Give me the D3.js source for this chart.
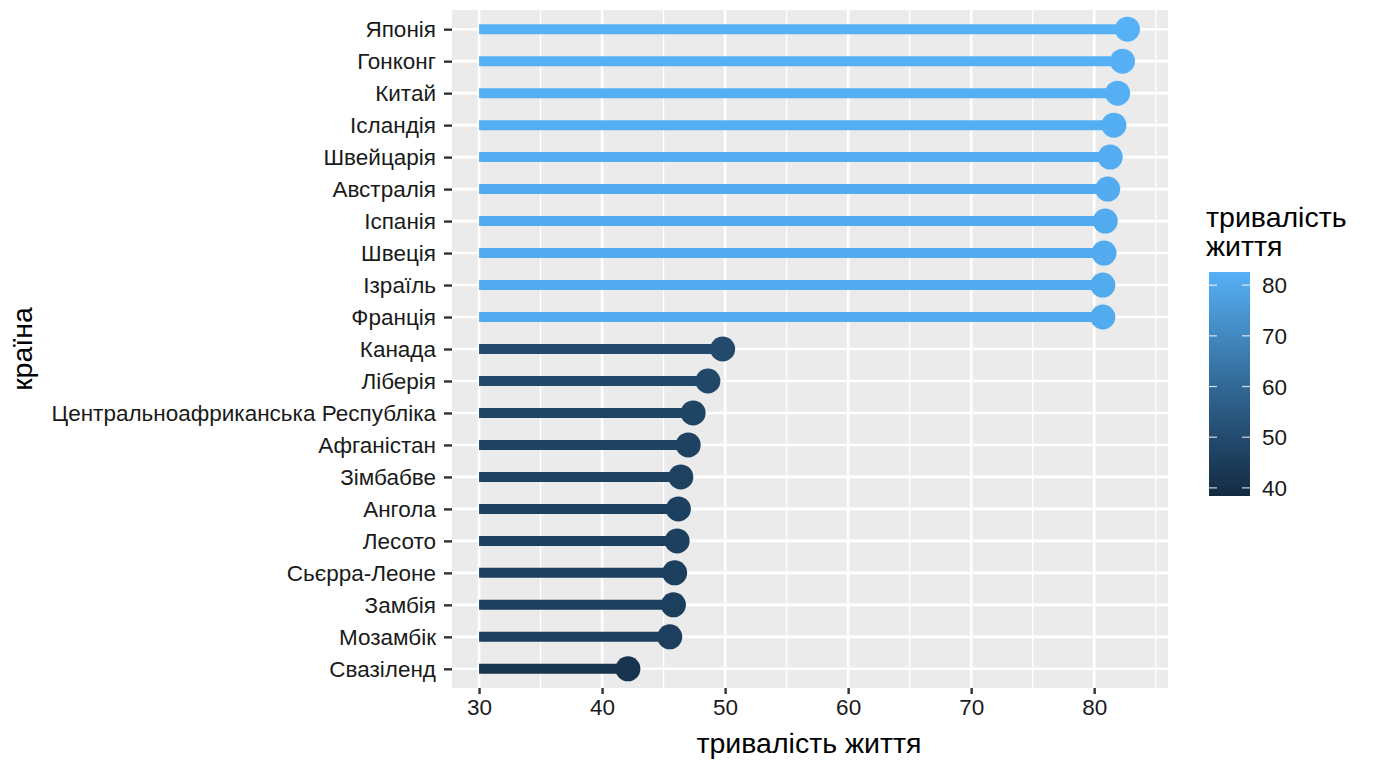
<!DOCTYPE html>
<html>
<head>
<meta charset="utf-8">
<script src="https://cdn.jsdelivr.net/npm/d3@7"></script>
<style>
  body { margin: 0; background: #fff; }
  text { font-family: "Liberation Sans", Arial, sans-serif; }
</style>
</head>
<body>
<svg id="chart" width="1376" height="768"></svg>
<script>
// дані
const countries = ['Японія', 'Гонконг', 'Китай', 'Ісландія', 'Швейцарія', 'Австралія',
  'Іспанія', 'Швеція', 'Ізраїль', 'Франція', 'Канада', 'Ліберія',
  'Центральноафриканська Республіка', 'Афганістан', 'Зімбабве', 'Ангола',
  'Лесото', 'Сьєрра-Леоне', 'Замбія', 'Мозамбік', 'Свазіленд'];
const lifeExp = [82.7, 82.3, 81.9, 81.6, 81.3, 81.1, 80.9, 80.8, 80.7, 80.7,
  49.8, 48.6, 47.4, 47.0, 46.4, 46.2, 46.1, 45.9, 45.8, 45.5, 42.1];
const xStart = 30;
const xTicks = [30, 40, 50, 60, 70, 80];
const xMinor = [35, 45, 55, 65, 75, 85];
const legendTicks = [40, 50, 60, 70, 80];
const colourLimits = [38.4, 82.6];

const rows = countries.map((c, i) => ({ country: c, value: lifeExp[i] }));

let svg = d3.select('#chart');

const panel = { left: 452, right: 1168, top: 10, bottom: 688 };

let x = d3.scaleLinear().domain([27.8, 86.0]).range([panel.left, panel.right]);
let y = d3.scalePoint().domain(countries).range([panel.top, panel.bottom]).padding(0.6);
let colour = d3.scaleLinear().domain(colourLimits).range(['#132B43', '#56B1F7'])
  .interpolate(d3.interpolateLab);

// фон панелі
svg.append('rect')
  .attr('x', panel.left).attr('y', panel.top)
  .attr('width', panel.right - panel.left).attr('height', panel.bottom - panel.top)
  .attr('fill', '#EBEBEB');

let grid = svg.append('g');
grid.selectAll('.minor').data(xMinor).enter().append('line')
  .attr('x1', d => x(d)).attr('x2', d => x(d))
  .attr('y1', panel.top).attr('y2', panel.bottom)
  .attr('stroke', '#fff').attr('stroke-width', 1.3);
grid.selectAll('.major').data(xTicks).enter().append('line')
  .attr('x1', d => x(d)).attr('x2', d => x(d))
  .attr('y1', panel.top).attr('y2', panel.bottom)
  .attr('stroke', '#fff').attr('stroke-width', 2.6);
grid.selectAll('.row').data(countries).enter().append('line')
  .attr('x1', panel.left).attr('x2', panel.right)
  .attr('y1', d => y(d)).attr('y2', d => y(d))
  .attr('stroke', '#fff').attr('stroke-width', 2.6);

// льодяники
svg.selectAll('.seg').data(rows).enter().append('line')
  .attr('x1', x(xStart)).attr('x2', d => x(d.value))
  .attr('y1', d => y(d.country)).attr('y2', d => y(d.country))
  .attr('stroke', d => colour(d.value)).attr('stroke-width', 10);

svg.selectAll('.dot').data(rows).enter().append('circle')
  .attr('cx', d => x(d.value))
  .attr('cy', d => y(d.country))
  .attr('r', 12.5)
  .attr('fill', d => colour(d.value));

// осі
let xAxis = svg.append('g')
  .attr('transform', `translate(0,${panel.bottom})`)
  .call(d3.axisBottom(x).tickValues(xTicks).tickSize(6).tickPadding(5));
let yAxis = svg.append('g')
  .attr('transform', `translate(${panel.left},0)`)
  .call(d3.axisLeft(y).tickSize(8).tickPadding(8));

[xAxis, yAxis].forEach(a => {
  a.select('.domain').remove();
  a.selectAll('.tick line').attr('stroke', '#333').attr('stroke-width', 2.4);
  a.selectAll('.tick text').attr('fill', '#1a1a1a').style('font-size', '22.5px')
    .style('font-family', '"Liberation Sans", Arial, sans-serif');
});

svg.append('text')
  .attr('x', 809).attr('y', 753)
  .attr('text-anchor', 'middle')
  .style('font-size', '28.5px')
  .text('тривалість життя');

svg.append('text')
  .attr('transform', `translate(32,${(panel.top + panel.bottom) / 2}) rotate(-90)`)
  .attr('text-anchor', 'middle')
  .style('font-size', '28.5px')
  .text('країна');

// легенда
const bar = { x: 1209, y: 272, w: 41, h: 224 };
let ly = d3.scaleLinear().domain(colourLimits).range([bar.y + bar.h, bar.y]);

let grad = svg.append('defs').append('linearGradient')
  .attr('id', 'lg').attr('x1', 0).attr('y1', 1).attr('x2', 0).attr('y2', 0);
grad.selectAll('stop').data(d3.range(0, 1.0001, 0.05)).enter().append('stop')
  .attr('offset', d => d)
  .attr('stop-color', d => colour(colourLimits[0] + d * (colourLimits[1] - colourLimits[0])));

let legend = svg.append('g');
legend.append('text')
  .attr('x', 1206).attr('y', 227)
  .style('font-size', '28.5px')
  .text('тривалість');
legend.append('text')
  .attr('x', 1206).attr('y', 256)
  .style('font-size', '28.5px')
  .text('життя');

legend.append('rect')
  .attr('x', bar.x).attr('y', bar.y).attr('width', bar.w).attr('height', bar.h)
  .attr('fill', 'url(#lg)');

legendTicks.forEach(t => {
  legend.append('line')
    .attr('x1', bar.x).attr('x2', bar.x + 8)
    .attr('y1', ly(t)).attr('y2', ly(t))
    .attr('stroke', '#fff').attr('stroke-opacity', 0.8).attr('stroke-width', 1.2);
  legend.append('line')
    .attr('x1', bar.x + bar.w - 8).attr('x2', bar.x + bar.w)
    .attr('y1', ly(t)).attr('y2', ly(t))
    .attr('stroke', '#fff').attr('stroke-opacity', 0.8).attr('stroke-width', 1.2);
  legend.append('text')
    .attr('x', 1262).attr('y', ly(t))
    .attr('dy', '0.36em')
    .attr('fill', '#1a1a1a')
    .style('font-size', '22.5px')
    .text(t);
});
</script>
</body>
</html>
